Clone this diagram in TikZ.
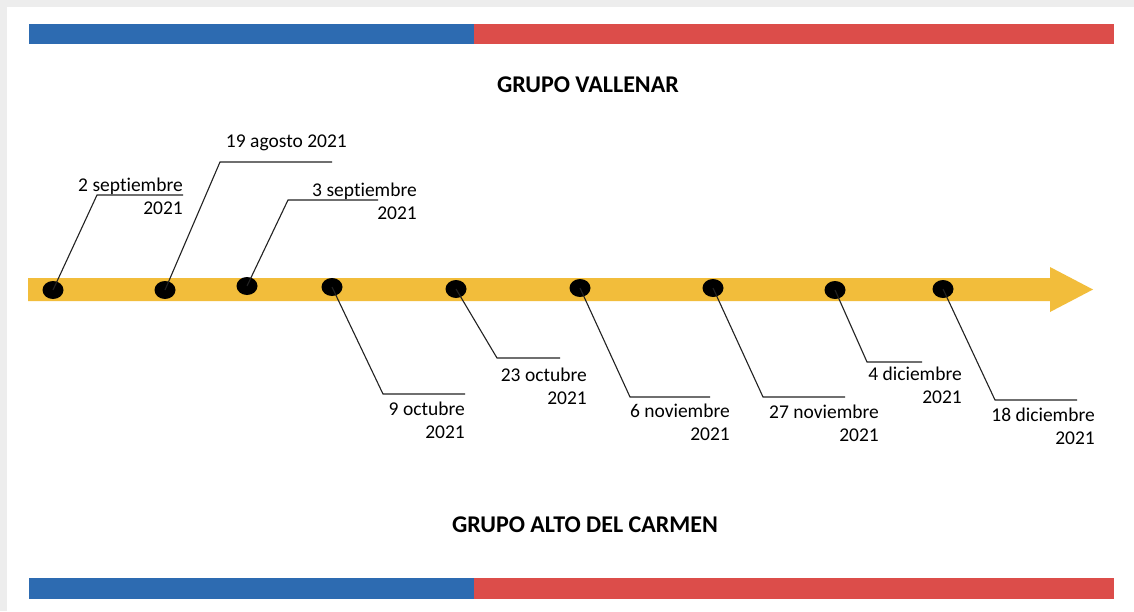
\documentclass[tikz,border=0pt]{standalone}
\usepackage{fontspec}
\setmainfont{Carlito}[Ligatures=NoCommon]
\usetikzlibrary{shapes.geometric}
\definecolor{cblue}{HTML}{2D6BB1}
\definecolor{cred}{HTML}{DC4D4A}
\definecolor{cyel}{HTML}{F2BD3B}
\definecolor{frame}{HTML}{EDEDED}
\definecolor{leader}{HTML}{222222}
\tikzset{
  dot/.style={ellipse, fill=black, minimum width=21pt, minimum height=18pt, inner sep=0pt},
  lead/.style={draw=leader, line width=1.1pt},
  lbl/.style={align=right, inner sep=0pt, font=\fontsize{19.5}{23}\selectfont, anchor=east},
  ttl/.style={inner sep=0pt, font=\fontsize{24}{28}\selectfont\bfseries}
}
\begin{document}
\begin{tikzpicture}[x=1pt,y=-1pt]
\useasboundingbox (0,0) rectangle (1134,611);
\fill[frame] (0,0) rectangle (1134,611);
\fill[white] (7,7) rectangle (1134,611);
% bars
\fill[cblue] (29,24) rectangle (474,44);
\fill[cred] (474,24) rectangle (1114,44);
\fill[cblue] (29,578) rectangle (474,599);
\fill[cred] (474,578) rectangle (1114,599);
% titles
\node[ttl] (t1) at (588,85) {GRUPO VALLENAR};
\node[ttl] (t2) at (585,525) {GRUPO ALTO DEL CARMEN};
% timeline arrow
\fill[cyel] (28,278) -- (1050,278) -- (1050,267) -- (1093,289.5) -- (1050,312) -- (1050,301) -- (28,301) -- cycle;
% leader knees and ends
\coordinate (k1) at (97,195);  \coordinate (h1) at (183,195);
\coordinate (k2) at (220,162); \coordinate (h2) at (332,162);
\coordinate (k3) at (288,200); \coordinate (h3) at (378,200);
\coordinate (k4) at (383,394); \coordinate (h4) at (465,394);
\coordinate (k5) at (497,358); \coordinate (h5) at (560,358);
\coordinate (k6) at (630,397); \coordinate (h6) at (710,397);
\coordinate (k7) at (763,397); \coordinate (h7) at (845,397);
\coordinate (k8) at (867,362); \coordinate (h8) at (922,362);
\coordinate (k9) at (995,400); \coordinate (h9) at (1077,400);
% dots
\node[dot] (d1) at (53,290) {};
\node[dot] (d2) at (165,290) {};
\node[dot] (d3) at (247,286) {};
\node[dot] (d4) at (332,287) {};
\node[dot] (d5) at (456,289) {};
\node[dot] (d6) at (580,288) {};
\node[dot] (d7) at (713,288) {};
\node[dot] (d8) at (835,290) {};
\node[dot] (d9) at (943,289) {};
% leaders
\foreach \i in {1,...,9} {
  \draw[lead] (d\i.center) -- (k\i) -- (h\i);
}
% labels
\node[lbl] (l1) at (183,196.5) {2 septiembre\\2021};
\node[lbl] (l2) at (347,143) {19 agosto 2021};
\node[lbl] (l3) at (417,201.5) {3 septiembre\\2021};
\node[lbl] (l4) at (465,420) {9 octubre\\2021};
\node[lbl] (l5) at (587,386) {23 octubre\\2021};
\node[lbl] (l6) at (730,422.5) {6 noviembre\\2021};
\node[lbl] (l7) at (879,423) {27 noviembre\\2021};
\node[lbl] (l8) at (962,385) {4 diciembre\\2021};
\node[lbl] (l9) at (1095,426.5) {18 diciembre\\2021};
\end{tikzpicture}
\end{document}
